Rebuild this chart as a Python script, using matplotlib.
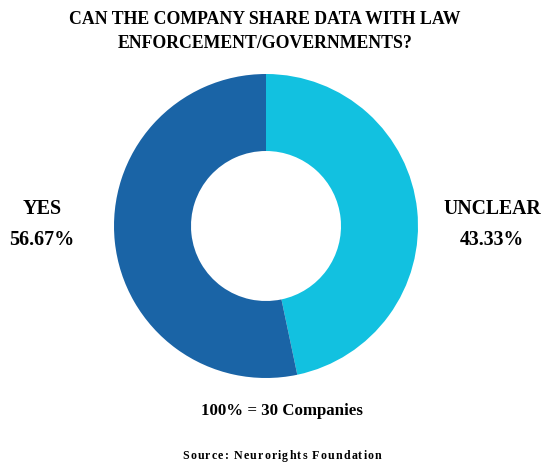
import matplotlib.pyplot as plt

labels = ["UNCLEAR", "YES"]
label_pcts = ["43.33%", "56.67%"]
# slice sizes as drawn in the picture
shares = [46.7, 53.3]
colors = ["#12c1e0", "#1a64a6"]
total_companies = 30

plt.rcParams['font.family'] = ['Liberation Serif', 'DejaVu Serif']

fig = plt.figure(figsize=(5.44, 4.62), dpi=100)
ax = fig.add_axes([114/544, 84/462, 304/544, 304/462])

ax.pie(shares, colors=colors, startangle=90, counterclock=False,
       radius=1.0, wedgeprops=dict(width=1 - 75/152, linewidth=0))
ax.set_xlim(-1, 1)
ax.set_ylim(-1, 1)
ax.set_aspect("equal")
ax.axis("off")

fig.text(265/544, 1 - 20/462, "CAN THE COMPANY SHARE DATA WITH LAW",
         ha="center", va="center", fontsize=12.8, fontweight="bold")
fig.text(265/544, 1 - 44/462, "ENFORCEMENT/GOVERNMENTS?",
         ha="center", va="center", fontsize=12.8, fontweight="bold")

# side labels
fig.text(42/544, 1 - 209/462, labels[1], ha="center", va="center",
         fontsize=14.5, fontweight="bold")
fig.text(42/544, 1 - 240/462, label_pcts[1], ha="center", va="center",
         fontsize=14.5, fontweight="bold")
fig.text(492/544, 1 - 209/462, labels[0], ha="center", va="center",
         fontsize=14.2, fontweight="bold")
fig.text(492/544, 1 - 240/462, label_pcts[0], ha="center", va="center",
         fontsize=14.2, fontweight="bold")

fig.text(282/544, 1 - 411/462, f"100% = {total_companies} Companies",
         ha="center", va="center", fontsize=12.2, fontweight="bold")

# letter-spaced source line
source = "Source: Neurorights Foundation"
spacing = 1.2  # px between letters
renderer = fig.canvas.get_renderer()
pieces = []
widths = []
for ch in source:
    t = fig.text(0, 1 - 456/462, ch, ha="left", va="center",
                 fontsize=8.6, fontweight="bold")
    pieces.append(t)
    w = t.get_window_extent(renderer).width if ch != " " else 2.6
    widths.append(w)
total = sum(widths) + spacing * (len(source) - 1)
x = 282 - total / 2
for t, w in zip(pieces, widths):
    t.set_x(x / 544)
    x += w + spacing

fig.savefig("out.png", dpi=100)
